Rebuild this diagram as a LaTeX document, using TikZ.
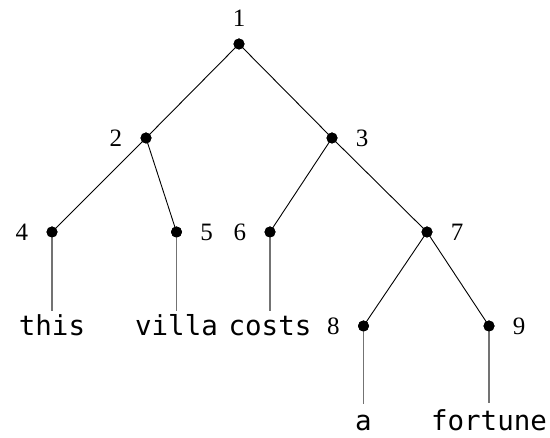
\documentclass[tikz,border=0pt]{standalone}
\usepackage{fontspec}
\setmainfont{Liberation Serif}
\newfontfamily\leafmono{DejaVu Sans Mono}
\begin{document}
\begin{tikzpicture}[x=1pt,y=-1pt,
  dot/.style={circle,fill=black,inner sep=0pt,minimum size=11pt},
  num/.style={font=\fontsize{25}{25}\selectfont,inner sep=0pt},
  edge/.style={draw=black,line width=0.9pt},
  leafline/.style={draw=black!55,line width=1.2pt},
  word/.style={font=\leafmono\fontsize{27.5}{27.5}\selectfont,inner sep=0pt,anchor=base}]
\useasboundingbox[fill=white] (0,0) rectangle (550,438);
\node[dot,label={[num,label distance=12pt]above:1}] (n1) at (239,44) {};
\node[dot,label={[num,label distance=18pt]left:2}] (n2) at (146,138) {};
\node[dot,label={[num,label distance=18pt]right:3}] (n3) at (332,138) {};
\node[dot,label={[num,label distance=18pt]left:4}] (n4) at (52,232) {};
\node[dot,label={[num,label distance=18pt]right:5}] (n5) at (176.5,232) {};
\node[dot,label={[num,label distance=18pt]left:6}] (n6) at (270,232) {};
\node[dot,label={[num,label distance=18pt]right:7}] (n7) at (427,232) {};
\node[dot,label={[num,label distance=18pt]left:8}] (n8) at (363.5,326) {};
\node[dot,label={[num,label distance=18pt]right:9}] (n9) at (489,326) {};
\node[word] (w4) at (52,336) {this};
\node[word] (w5) at (176.5,336) {villa};
\node[word] (w6) at (270,336) {costs};
\node[word] (w8) at (363.5,431) {a};
\node[word] (w9) at (489,431) {fortune};
\coordinate (e4) at (52,311);
\coordinate (e5) at (176.5,311);
\coordinate (e6) at (270,311);
\coordinate (e8) at (363.5,404);
\coordinate (e9) at (489,403);
\draw[edge] (n1.center) -- (n2.center);
\draw[edge] (n1.center) -- (n3.center);
\draw[edge] (n2.center) -- (n4.center);
\draw[edge] (n2.center) -- (n5.center);
\draw[edge] (n3.center) -- (n6.center);
\draw[edge] (n3.center) -- (n7.center);
\draw[edge] (n7.center) -- (n8.center);
\draw[edge] (n7.center) -- (n9.center);
\draw[leafline] (n4.center) -- (e4);
\draw[leafline] (n5.center) -- (e5);
\draw[leafline] (n6.center) -- (e6);
\draw[leafline] (n8.center) -- (e8);
\draw[leafline] (n9.center) -- (e9);
\foreach \n in {n1,n2,n3,n4,n5,n6,n7,n8,n9} \fill (\n) circle (5.5pt);
\end{tikzpicture}
\end{document}
